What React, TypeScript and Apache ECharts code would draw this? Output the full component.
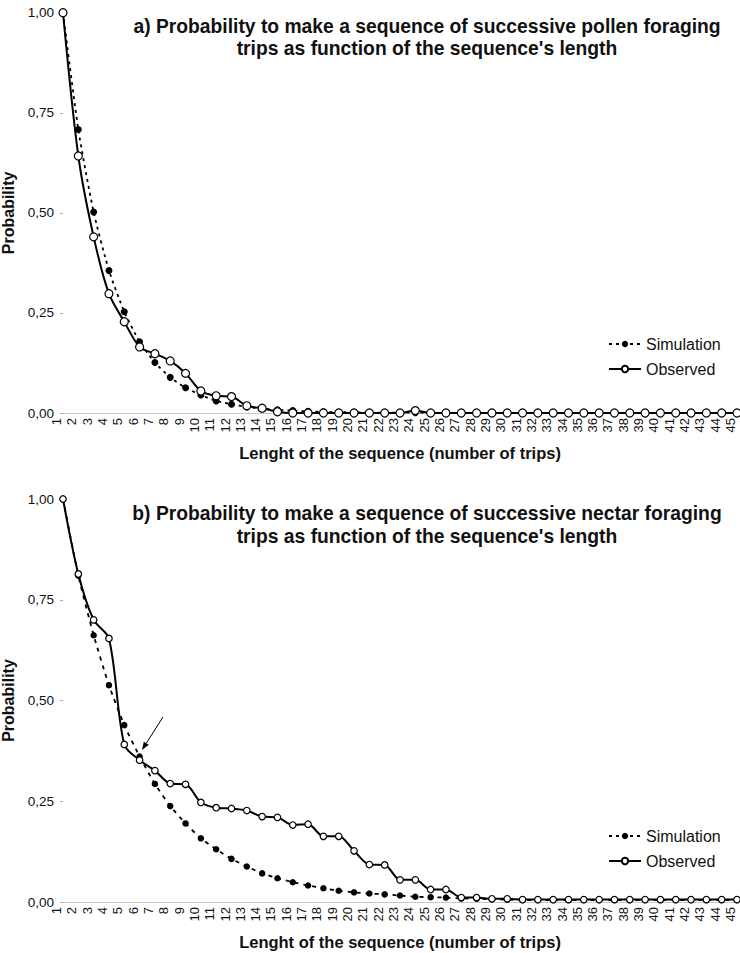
import React, { useEffect, useRef } from "react";
import * as echarts from "echarts";

const categories = ["1","2","3","4","5","6","7","8","9","10","11","12","13","14","15","16","17","18","19","20","21","22","23","24","25","26","27","28","29","30","31","32","33","34","35","36","37","38","39","40","41","42","43","44","45"];
const yTickLabels = ["0,00", "0,25", "0,50", "0,75", "1,00"];
const seriesNames = ["Simulation", "Observed"];

const titleA = ["a) Probability to make a sequence of successive pollen foraging", "trips as function of the sequence's length"];
const titleB = ["b) Probability to make a sequence of successive nectar foraging", "trips as function of the sequence's length"];
const xAxisName = "Lenght of the sequence (number of trips)";
const yAxisName = "Probability";

// a) pollen
const simA = [1.0, 0.708, 0.502, 0.356, 0.253, 0.178, 0.126, 0.089, 0.063, 0.045, 0.03, 0.022, 0.015, 0.011, 0.008, 0.006, 0.004, 0.003, 0.002, 0.002, 0.001, 0.001, 0.001, 0.001, 0, 0, 0, 0, 0, 0, 0, 0, 0, 0, 0, 0, 0, 0, 0, 0, 0, 0, 0, 0, 0];
const obsA = [1.0, 0.642, 0.44, 0.298, 0.228, 0.165, 0.148, 0.13, 0.099, 0.055, 0.043, 0.041, 0.018, 0.012, 0.003, 0, 0, 0, 0, 0, 0, 0, 0, 0.006, 0, 0, 0, 0, 0, 0, 0, 0, 0, 0, 0, 0, 0, 0, 0, 0, 0, 0, 0, 0, 0];

// b) nectar
const simB = [1.0, 0.81, 0.662, 0.538, 0.439, 0.361, 0.293, 0.238, 0.195, 0.158, 0.131, 0.107, 0.088, 0.071, 0.059, 0.049, 0.041, 0.034, 0.028, 0.024, 0.021, 0.019, 0.016, 0.013, 0.012, 0.011, 0.009, 0.008, 0.007, 0.006, 0.005, 0.005, 0.005, 0.005, 0.005, 0.005, 0.005, 0.005, 0.005, 0.005, 0.005, 0.005, 0.005, 0.005, 0.005];
const obsB = [1.0, 0.814, 0.7, 0.654, 0.391, 0.352, 0.326, 0.294, 0.292, 0.247, 0.234, 0.232, 0.227, 0.212, 0.21, 0.191, 0.193, 0.163, 0.163, 0.127, 0.093, 0.092, 0.055, 0.055, 0.031, 0.031, 0.011, 0.011, 0.008, 0.008, 0.006, 0.006, 0.006, 0.006, 0.006, 0.006, 0.006, 0.006, 0.006, 0.006, 0.006, 0.006, 0.006, 0.006, 0.006];

const FONT = "'Liberation Sans', Arial, Helvetica, sans-serif";
const INK = "#111";

function xAxis(gridIndex: number) {
  return {
    gridIndex,
    type: "category",
    data: categories,
    boundaryGap: false,
    axisLine: { show: true, lineStyle: { color: "#bbb", type: "dotted", width: 1 } },
    axisTick: { show: false },
    splitLine: { show: false },
    axisLabel: {
      interval: 0,
      rotate: 90,
      fontSize: 13,
      lineHeight: 13,
      verticalAlign: "bottom",
      color: INK,
      margin: 5,
      fontFamily: FONT,
    },
    name: xAxisName,
    nameLocation: "middle",
    nameGap: 31,
    nameTextStyle: { fontSize: 16.5, fontWeight: "bold", color: INK, fontFamily: FONT },
  };
}

function yAxis(gridIndex: number) {
  return {
    gridIndex,
    type: "value",
    min: 0,
    max: 1,
    interval: 0.25,
    axisLine: { show: false },
    axisTick: { show: true, length: 3, lineStyle: { color: "#aaa" } },
    splitLine: { show: false },
    axisLabel: {
      formatter: (v: number) => yTickLabels[Math.round(v / 0.25)],
      fontSize: 13.5,
      color: INK,
      margin: 9,
      fontFamily: FONT,
    },
    name: yAxisName,
    nameLocation: "middle",
    nameGap: 38,
    nameRotate: 90,
    nameTextStyle: { fontSize: 16, fontWeight: "bold", color: INK, fontFamily: FONT },
  };
}

function simSeries(idx: number, data: number[], size: number, dash: number[]) {
  return {
    name: seriesNames[0],
    type: "line",
    xAxisIndex: idx,
    yAxisIndex: idx,
    data,
    smooth: 0.2,
    symbol: "circle",
    symbolSize: size,
    showAllSymbol: true,
    z: 2,
    lineStyle: { color: "#000", width: 1.8, type: dash },
    itemStyle: { color: "#000", borderColor: "#000", borderWidth: 0 },
  };
}

function obsSeries(idx: number, data: number[], size: number) {
  return {
    name: seriesNames[1],
    type: "line",
    xAxisIndex: idx,
    yAxisIndex: idx,
    data,
    smooth: 0.3,
    symbol: "circle",
    symbolSize: size,
    showAllSymbol: true,
    z: 3,
    lineStyle: { color: "#000", width: 2, type: "solid" },
    itemStyle: { color: "#fff", borderColor: "#000", borderWidth: 1.2 },
  };
}

function legend(top: number) {
  return {
    data: seriesNames,
    orient: "vertical",
    left: 603,
    top,
    itemWidth: 32,
    itemHeight: 8,
    itemGap: 9,
    selectedMode: false,
    textStyle: { fontSize: 16, color: INK, fontFamily: FONT },
  };
}

function titleText(text: string, y: number) {
  return {
    type: "text",
    x: 427,
    y,
    style: {
      text,
      font: `bold 19.3px ${FONT}`,
      fill: INK,
      textAlign: "center",
      textVerticalAlign: "middle",
    },
  };
}

export default function App() {
  const ref = useRef<HTMLDivElement>(null);

  useEffect(() => {
    if (!ref.current) return;
    const chart = echarts.init(ref.current, null, { renderer: "svg" });
    const tip = [142, 750];
    const start = [163, 717];
    const dx = tip[0] - start[0];
    const dy = tip[1] - start[1];
    const len = Math.sqrt(dx * dx + dy * dy);
    const ux = dx / len;
    const uy = dy / len;
    const bx = tip[0] - ux * 8;
    const by = tip[1] - uy * 8;
    const px = -uy;
    const py = ux;
    chart.setOption({
      animation: false,
      backgroundColor: "#fff",
      textStyle: { fontFamily: FONT },
      grid: [
        { left: 63, right: 3, top: 12.7, height: 400.3, outerBoundsMode: "none" },
        { left: 63, right: 3, top: 499, height: 403, outerBoundsMode: "none" },
      ],
      xAxis: [xAxis(0), xAxis(1)],
      yAxis: [yAxis(0), yAxis(1)],
      legend: [legend(331), legend(823)],
      series: [
        simSeries(0, simA, 7, [3, 4]),
        obsSeries(0, obsA, 8),
        simSeries(1, simB, 6.5, [4, 5]),
        obsSeries(1, obsB, 6.5),
      ],
      graphic: [
        titleText(titleA[0], 26),
        titleText(titleA[1], 48),
        titleText(titleB[0], 513),
        titleText(titleB[1], 536),
        {
          type: "line",
          shape: { x1: start[0], y1: start[1], x2: bx, y2: by },
          style: { stroke: "#000", lineWidth: 1 },
        },
        {
          type: "polygon",
          shape: {
            points: [
              [tip[0], tip[1]],
              [bx + px * 3, by + py * 3],
              [bx - px * 3, by - py * 3],
            ],
          },
          style: { fill: "#000" },
        },
      ],
    });
    return () => chart.dispose();
  }, []);

  return (
    <div
      ref={ref}
      style={{ position: "absolute", left: 0, top: 0, width: 740, height: 953, background: "#fff" }}
    />
  );
}
